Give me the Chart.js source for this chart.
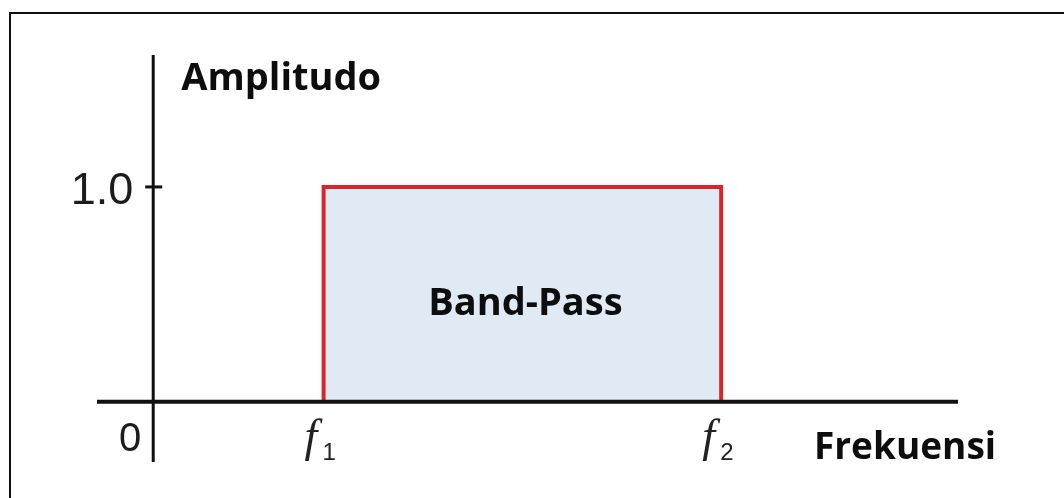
<!DOCTYPE html>
<html>
<head>
<meta charset="utf-8">
<script src="https://cdn.jsdelivr.net/npm/chart.js@4/dist/chart.umd.min.js"></script>
<style>
  html, body { margin: 0; padding: 0; background: #fff; }
  #wrap { position: relative; width: 1064px; height: 498px; }
  #frame {
    position: absolute; left: 9px; top: 12px; right: 0; bottom: 0;
    border-left: 2px solid #111; border-top: 2px solid #111;
    pointer-events: none;
  }
  canvas { display: block; }
</style>
</head>
<body>
<div id="wrap">
  <canvas id="bandChart" width="1064" height="498"></canvas>
  <div id="frame"></div>
</div>
<script>
// Band-pass filter: amplitude vs frequency
const cornerLabels = ['f1', 'f2'];
const cornerFreqs = [3, 10];
const passAmplitude = 1.0;
const yTickValues = [0, 1.0];
const yTickLabels = ['0', '1.0'];
const axisTitles = ['Frekuensi', 'Amplitudo'];
const bandLabel = 'Band-Pass';

// rectangle outline of the pass band
const bandPoints = [
    { x: cornerFreqs[0], y: 0 },
    { x: cornerFreqs[0], y: passAmplitude },
    { x: cornerFreqs[1], y: passAmplitude },
    { x: cornerFreqs[1], y: 0 }
];

// draws axes, ticks and all labels from the scales
const axesPlugin = {
    id: 'axesPlugin',
    afterDatasetsDraw(chart) {
        const ctx = chart.ctx;
        const xs = chart.scales.x;
        const ys = chart.scales.y;
        const area = chart.chartArea;
        const x0 = xs.getPixelForValue(0);
        const y0 = ys.getPixelForValue(0);

        ctx.save();
        ctx.strokeStyle = '#111';
        ctx.lineCap = 'butt';

        // x axis
        ctx.lineWidth = 4;
        ctx.beginPath();
        ctx.moveTo(area.left, y0);
        ctx.lineTo(area.right, y0);
        ctx.stroke();

        // y axis
        ctx.lineWidth = 3;
        ctx.beginPath();
        ctx.moveTo(x0, area.top);
        ctx.lineTo(x0, area.bottom);
        ctx.stroke();

        // y tick marks + labels
        ctx.fillStyle = '#1c1c1c';
        ctx.textBaseline = 'alphabetic';
        yTickValues.forEach((v, i) => {
            const py = ys.getPixelForValue(v);
            ctx.textAlign = 'right';
            if (v !== 0) {
                ctx.lineWidth = 3;
                ctx.beginPath();
                ctx.moveTo(x0 - 8, py);
                ctx.lineTo(x0 + 9, py);
                ctx.stroke();
                ctx.font = '45px "Liberation Sans", Arial, sans-serif';
                ctx.fillText(yTickLabels[i], x0 - 20, py + 17);
            } else {
                ctx.font = '40px "Liberation Sans", Arial, sans-serif';
                ctx.fillText(yTickLabels[i], x0 - 12, py + 49);
            }
        });

        // corner frequency labels
        cornerFreqs.forEach((f, i) => {
            const px = xs.getPixelForValue(f);
            const base = cornerLabels[i].charAt(0);
            const sub = cornerLabels[i].slice(1);
            ctx.textAlign = 'left';
            ctx.fillStyle = '#222';
            ctx.font = 'italic 46px "Liberation Serif", "Times New Roman", serif';
            ctx.fillText(base, px - 19, y0 + 49);
            ctx.font = '24px "Liberation Sans", Arial, sans-serif';
            ctx.fillText(sub, px - 1, y0 + 58);
        });

        // axis titles and band label
        ctx.fillStyle = '#0d0d0d';
        ctx.font = 'bold 38px "Open Sans", sans-serif';
        ctx.textAlign = 'left';
        ctx.fillText(axisTitles[1], x0 + 28, area.top + 35);
        ctx.font = 'bold 37px "Open Sans", sans-serif';
        ctx.fillText(axisTitles[0], area.right - 144, y0 + 57);

        const midX = xs.getPixelForValue((cornerFreqs[0] + cornerFreqs[1]) / 2);
        const midY = ys.getPixelForValue(passAmplitude / 2);
        ctx.textAlign = 'center';
        ctx.font = 'bold 38px "Open Sans", sans-serif';
        ctx.fillText(bandLabel, midX + 3, midY + 21);

        ctx.restore();
    }
};

new Chart(document.getElementById('bandChart'), {
    type: 'scatter',
    data: {
        datasets: [{
            label: bandLabel,
            data: bandPoints,
            showLine: true,
            borderColor: '#d6262b',
            borderWidth: 4,
            backgroundColor: '#e0eaf5',
            fill: 'origin',
            pointRadius: 0,
            tension: 0
        }]
    },
    options: {
        responsive: false,
        animation: false,
        layout: {
            padding: { left: 97, right: 106, top: 55, bottom: 36 }
        },
        plugins: {
            legend: { display: false },
            tooltip: { enabled: false }
        },
        scales: {
            x: { type: 'linear', min: -0.99, max: 14.17, display: false },
            y: { type: 'linear', min: -0.28, max: 1.614, display: false }
        }
    },
    plugins: [axesPlugin]
});
</script>
</body>
</html>
